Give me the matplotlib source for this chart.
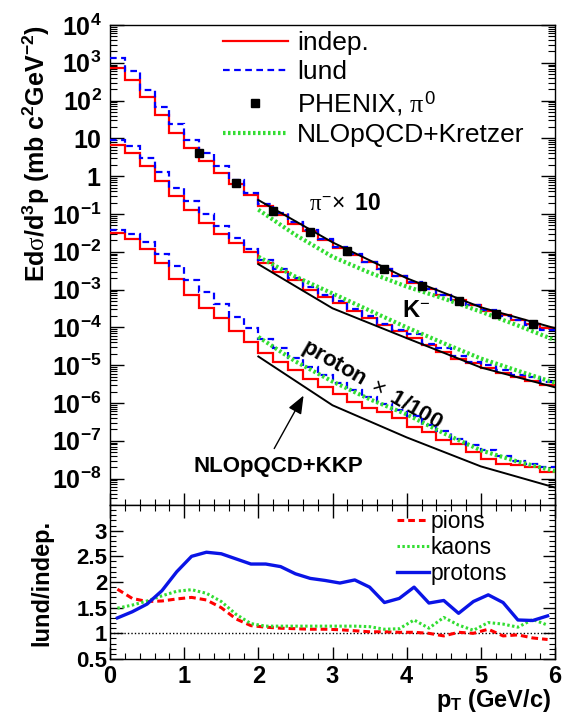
import numpy as np
import matplotlib
matplotlib.use("Agg")
import matplotlib.pyplot as plt
from matplotlib.ticker import FixedLocator, LogLocator, MultipleLocator, NullFormatter

plt.rcParams['font.family'] = ['Liberation Sans', 'DejaVu Sans']
plt.rcParams['mathtext.fontset'] = 'custom'
plt.rcParams['mathtext.rm'] = 'Liberation Sans'
plt.rcParams['mathtext.it'] = 'Liberation Serif'
plt.rcParams['mathtext.bf'] = 'Liberation Sans:bold'
plt.rcParams['mathtext.sf'] = 'Liberation Sans'

# ---------------- data ----------------
pt_edges = np.linspace(0.0, 6.0, 31)          # 0.2 GeV/c bins

pion_indep = [720, 355, 123, 41, 14.1, 5.5, 2.45, 1.23, 0.62, 0.32,
              0.166, 0.095, 0.056, 0.035, 0.021, 0.0126, 0.0083, 0.0054, 0.0035, 0.0023,
              0.0015, 0.00105, 7.4e-4, 5.2e-4, 3.8e-4, 2.75e-4, 2.1e-4, 1.6e-4, 1.26e-4, 9.5e-5]
pion_lund = [1320, 620, 195, 66, 23.4, 9.0, 4.0, 1.82, 0.79, 0.37,
             0.186, 0.105, 0.062, 0.037, 0.0224, 0.0135, 0.0087, 0.0055, 0.00355, 0.00234,
             0.00155, 0.00105, 7.1e-4, 5.4e-4, 3.8e-4, 2.95e-4, 2.0e-4, 1.55e-4, 1.15e-4, 8.3e-5]

kaon_indep = [6.6, 4.0, 1.86, 0.76, 0.30, 0.129, 0.057, 0.030, 0.017, 0.0098,
              0.0052, 0.0030, 0.00178, 0.0010, 6.5e-4, 4.3e-4, 2.7e-4, 1.78e-4, 1.15e-4, 7.8e-5,
              5.1e-5, 3.4e-5, 2.2e-5, 1.5e-5, 1.12e-5, 8.3e-6, 6.3e-6, 4.8e-6, 3.8e-6, 3.0e-6]
kaon_lund = [9.3, 6.3, 2.95, 1.29, 0.50, 0.224, 0.100, 0.049, 0.023, 0.0117,
             0.0060, 0.0034, 0.00204, 0.00115, 7.4e-4, 4.9e-4, 3.1e-4, 2.0e-4, 1.23e-4, 8.5e-5,
             6.5e-5, 3.7e-5, 2.9e-5, 1.74e-5, 1.2e-5, 1.0e-5, 7.4e-6, 5.4e-6, 4.8e-6, 3.5e-6]

proton_indep = [0.0316, 0.0219, 0.0115, 0.0050, 0.00186, 7.4e-4, 3.3e-4, 1.74e-4, 7.9e-5, 4.2e-5,
                2.1e-5, 1.23e-5, 7.4e-6, 4.3e-6, 2.6e-6, 1.7e-6, 1.07e-6, 7.4e-7, 5.9e-7, 3.9e-7,
                2.3e-7, 1.66e-7, 1.07e-7, 8.1e-8, 4.9e-8, 3.2e-8, 2.5e-8, 2.3e-8, 2.0e-8, 1.48e-8]
proton_lund = [0.038, 0.030, 0.0178, 0.0089, 0.0041, 0.00182, 8.5e-4, 4.2e-4, 1.9e-4, 9.8e-5,
               5.0e-5, 2.8e-5, 1.58e-5, 8.9e-6, 5.4e-6, 3.4e-6, 2.2e-6, 1.41e-6, 9.3e-7, 6.6e-7,
               4.4e-7, 2.6e-7, 1.78e-7, 1.12e-7, 7.9e-8, 5.6e-8, 4.0e-8, 3.0e-8, 2.5e-8, 2.0e-8]

phenix_pt = [1.2, 1.7, 2.2, 2.7, 3.2, 3.7, 4.2, 4.7, 5.2, 5.7]
phenix_pi0 = [4.0, 0.65, 0.123, 0.034, 0.0107, 0.0035, 0.00126, 5.0e-4, 2.3e-4, 1.2e-4]

kkp_pt = [2.0, 3.0, 4.0, 5.0, 6.0]
kkp_pion = [0.234, 0.0178, 0.0020, 3.4e-4, 9.5e-5]
kkp_kaon = [4.7e-3, 3.2e-4, 5.2e-5, 8.7e-6, 2.6e-6]
kkp_proton = [1.7e-5, 8.7e-7, 1.23e-7, 2.1e-8, 5.8e-9]

kretzer_pt = [2.0, 2.5, 3.0, 3.5, 4.0, 4.5, 5.0, 5.5, 6.0]
kretzer_pion = [0.13, 0.028, 0.0074, 0.0028, 0.0012, 5.8e-4, 2.6e-4, 1.12e-4, 4.6e-5]
kretzer_kaon = [7.4e-3, 2.2e-3, 7.9e-4, 2.8e-4, 1.0e-4, 3.8e-5, 1.5e-5, 7.1e-6, 3.4e-6]
kretzer_proton = [5.6e-5, 1.26e-5, 3.7e-6, 1.26e-6, 5.0e-7, 1.58e-7, 5.6e-8, 2.8e-8, 1.58e-8]

ratio_pions = [1.86, 1.68, 1.62, 1.63, 1.67, 1.70, 1.65, 1.50, 1.28, 1.15,
               1.12, 1.10, 1.09, 1.08, 1.08, 1.07, 1.05, 1.03, 1.03, 1.02,
               1.02, 1.00, 0.95, 1.02, 1.00, 1.08, 0.95, 0.97, 0.91, 0.88]
ratio_kaons = [1.49, 1.55, 1.63, 1.73, 1.82, 1.85, 1.78, 1.62, 1.37, 1.19,
               1.14, 1.14, 1.14, 1.14, 1.14, 1.14, 1.14, 1.13, 1.08, 1.09,
               1.26, 1.10, 1.31, 1.16, 1.06, 1.21, 1.18, 1.12, 1.27, 1.16]
ratio_protons = [1.30, 1.42, 1.57, 1.83, 2.20, 2.50, 2.58, 2.55, 2.45, 2.35,
                 2.35, 2.30, 2.16, 2.07, 2.03, 1.98, 2.04, 1.90, 1.60, 1.68,
                 1.90, 1.59, 1.64, 1.39, 1.62, 1.75, 1.60, 1.26, 1.25, 1.34]

y_tick_values = [1e-8, 1e-7, 1e-6, 1e-5, 1e-4, 1e-3, 1e-2, 1e-1, 1, 10, 1e2, 1e3, 1e4]
y_tick_labels = [r'$\mathbf{10^{-8}}$', r'$\mathbf{10^{-7}}$', r'$\mathbf{10^{-6}}$',
                 r'$\mathbf{10^{-5}}$', r'$\mathbf{10^{-4}}$', r'$\mathbf{10^{-3}}$',
                 r'$\mathbf{10^{-2}}$', r'$\mathbf{10^{-1}}$', r'$\mathbf{1}$', r'$\mathbf{10}$',
                 r'$\mathbf{10^{2}}$', r'$\mathbf{10^{3}}$', r'$\mathbf{10^{4}}$']
ratio_tick_values = [0.5, 1, 1.5, 2, 2.5, 3]
ratio_tick_labels = ['0.5', '1', '1.5', '2', '2.5', '3']
x_tick_values = [0, 1, 2, 3, 4, 5, 6]
x_tick_labels = ['0', '1', '2', '3', '4', '5', '6']

# ---------------- style ----------------
RED = '#ff0000'
BLUE = '#0000ff'
GREEN = '#33dd33'

W, H = 574, 719
fig = plt.figure(figsize=(W / 100, H / 100), dpi=100)
ax1 = fig.add_axes([110 / W, 1 - 505 / H, 445 / W, (505 - 25) / H])
ax2 = fig.add_axes([110 / W, 1 - 659 / H, 445 / W, (659 - 505) / H])

pt_centers = 0.5 * (pt_edges[:-1] + pt_edges[1:])

# ---------------- top panel ----------------
ax1.set_yscale('log')
ax1.set_xlim(0, 6)
ax1.set_ylim(2e-9, 1e4)

hist_lw = 1.6
h_indep = None
for vals in (pion_indep, kaon_indep, proton_indep):
    h_indep = ax1.stairs(vals, pt_edges, baseline=None, color=RED, lw=hist_lw, zorder=3)
h_lund = None
for vals in (pion_lund, kaon_lund, proton_lund):
    h_lund = ax1.stairs(vals, pt_edges, baseline=None, color=BLUE, lw=hist_lw,
                        linestyle=(0, (3, 2)), zorder=4)
for vals in (kretzer_pion, kretzer_kaon, kretzer_proton):
    l_kretzer, = ax1.plot(kretzer_pt, vals, color=GREEN, lw=3.0, linestyle=(0, (0.6, 0.6)), zorder=5)
for vals in (kkp_pion, kkp_kaon, kkp_proton):
    ax1.plot(kkp_pt, vals, color='black', lw=1.4, zorder=6)
l_phenix, = ax1.plot(phenix_pt, phenix_pi0, linestyle='none', marker='s', ms=5.5,
                     color='black', zorder=7)

ax1.yaxis.set_major_locator(FixedLocator(y_tick_values))
ax1.set_yticklabels(y_tick_labels)
ax1.yaxis.set_minor_locator(LogLocator(base=10, subs=np.arange(2, 10), numticks=100))
ax1.yaxis.set_minor_formatter(NullFormatter())
ax1.xaxis.set_major_locator(MultipleLocator(1))
ax1.xaxis.set_minor_locator(MultipleLocator(0.2))
ax1.tick_params(axis='both', which='both', direction='in', left=True, right=True,
                bottom=True, top=False, labelbottom=False)
ax1.tick_params(axis='y', which='major', length=10, width=1, labelsize=18, pad=6)
ax1.tick_params(axis='y', which='minor', length=5, width=0.8)
ax1.tick_params(axis='x', which='major', length=9, width=1)
ax1.tick_params(axis='x', which='minor', length=4.5, width=0.8)

ax1.legend([h_indep, h_lund, l_phenix, l_kretzer],
           ['indep.', 'lund', r'PHENIX, $\pi^{0}$', 'NLOpQCD+Kretzer'],
           loc='upper left', bbox_to_anchor=(0.254, 0.988), frameon=False,
           fontsize=19, handlelength=2.45, handletextpad=0.35, labelspacing=0.2,
           borderpad=0, borderaxespad=0)

ax1.text(0.528, 0.629, r'$\pi^{-}\!\times\ \mathbf{10}$', transform=ax1.transAxes,
         fontsize=16.5, ha='center', va='center')
ax1.text(0.656, 0.404, r'$\mathbf{K}^{-}$', transform=ax1.transAxes,
         fontsize=17, ha='left', va='center')
ax1.text(0.589, 0.25, r'$\mathbf{proton}\ \times\ \mathbf{1/100}$', transform=ax1.transAxes,
         fontsize=16, ha='center', va='center', rotation=-30, rotation_mode='anchor')
ax1.text(0.3775, 0.081, 'NLOpQCD+KKP', transform=ax1.transAxes, fontsize=16,
         fontweight='bold', ha='center', va='center')
ax1.annotate('', xy=(0.438, 0.233), xytext=(0.366, 0.1125), xycoords='axes fraction',
             textcoords='axes fraction',
             arrowprops=dict(arrowstyle='-|>,head_length=0.5,head_width=0.2',
                             color='black', lw=1.0, mutation_scale=22))

# ---------------- ratio panel ----------------
ax2.set_xlim(0, 6)
ax2.set_ylim(0.5, 3.5)
ax2.axhline(1.0, color='black', lw=1.0, linestyle=(0, (1, 1.5)), zorder=1)
l_pi, = ax2.plot(pt_centers, ratio_pions, color=RED, lw=2.2, linestyle=(0, (2.2, 1.3)), zorder=3)
l_ka, = ax2.plot(pt_centers, ratio_kaons, color=GREEN, lw=2.2, linestyle=(0, (0.8, 0.8)), zorder=3)
l_pr, = ax2.plot(pt_centers, ratio_protons, color='#0a14e6', lw=2.4, zorder=4)

ax2.set_xticks(x_tick_values)
ax2.set_xticklabels(x_tick_labels, fontweight='bold')
ax2.set_yticks(ratio_tick_values)
ax2.set_yticklabels(ratio_tick_labels, fontweight='bold')
ax2.xaxis.set_minor_locator(MultipleLocator(0.2))
ax2.yaxis.set_minor_locator(MultipleLocator(0.1))
ax2.tick_params(axis='both', which='both', direction='in', left=True, right=True,
                bottom=True, top=True)
ax2.tick_params(axis='x', which='major', length=9, width=1, labelsize=17, pad=4)
ax2.tick_params(axis='x', which='minor', length=4.5, width=0.8)
ax2.tick_params(axis='y', which='major', length=9, width=1, labelsize=16, pad=2)
ax2.tick_params(axis='y', which='minor', length=4.5, width=0.8)

ax2.legend([l_pi, l_ka, l_pr], ['pions', 'kaons', 'protons'], loc='upper left',
           bbox_to_anchor=(0.644, 0.965), frameon=False, fontsize=16.5,
           handlelength=1.4, handletextpad=0.1, labelspacing=0.12,
           borderpad=0, borderaxespad=0)

for ax in (ax1, ax2):
    for s in ax.spines.values():
        s.set_linewidth(1.0)

# ---------------- axis titles ----------------
fig.text(36 / W, 1 - 25 / H,
         r'$\mathbf{Ed}\sigma\mathbf{/d^{3}p\ (mb\ c^{2}GeV^{-2})}$',
         rotation=90, ha='center', va='top', fontsize=18)
fig.text(42 / W, 1 - 583 / H, 'lund/indep.', rotation=90, ha='center', va='center',
         fontsize=17, fontweight='bold')
fig.text(551 / W, 1 - 700 / H, r'$\mathbf{p_{T}\ (GeV/c)}$', ha='right', va='center',
         fontsize=17)

fig.savefig('out.png', dpi=100)
